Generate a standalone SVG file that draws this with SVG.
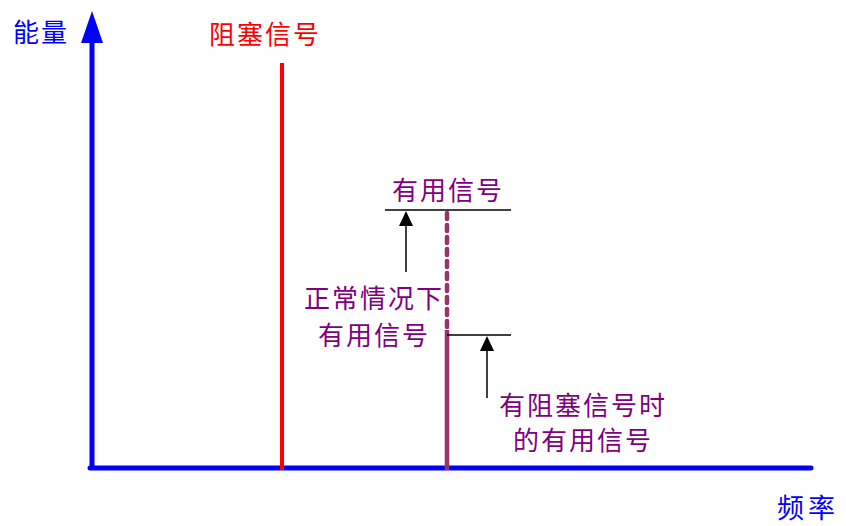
<svg xmlns="http://www.w3.org/2000/svg" width="846" height="526" viewBox="0 0 846 526">
<style>
text{font-family:"Liberation Serif","Noto Sans CJK SC",serif;font-size:26px;letter-spacing:2px}
.blue{fill:#0000ff}.red{fill:#ff0000}.pur{fill:#800080}
.thin{stroke:#000;stroke-width:1.5;fill:none}
</style>
<g id="axes">
<line x1="92" y1="470" x2="92" y2="38" stroke="#0000ff" stroke-width="5"/>
<path d="M92,11 L81,43 L103,43 Z" fill="#0000ff"/>
<line x1="90" y1="468" x2="811" y2="468" stroke="#0000ff" stroke-width="5" stroke-linecap="round"/>
</g>
<g id="block-signal">
<line x1="282" y1="63" x2="282" y2="470" stroke="#ff0000" stroke-width="4"/>
</g>
<g id="useful-signal">
<line x1="447" y1="213" x2="447" y2="328" stroke="#993366" stroke-width="4.5" stroke-dasharray="6,6" stroke-linecap="round"/>
<line x1="447" y1="330" x2="447" y2="470" stroke="#993366" stroke-width="4.5"/>
</g>
<g id="connectors">
<line class="thin" x1="385" y1="210" x2="511" y2="210"/>
<line class="thin" x1="406" y1="272" x2="406" y2="224"/>
<path d="M406,211 L399,226 L413,226 Z" fill="#000"/>
<line class="thin" x1="447" y1="335" x2="511" y2="335"/>
<line class="thin" x1="487" y1="398" x2="487" y2="348"/>
<path d="M487,336 L480,351 L494,351 Z" fill="#000"/>
</g>
<g id="labels">
<text class="blue" x="13" y="42">能量</text>
<text class="red" x="209" y="44">阻塞信号</text>
<text class="pur" x="392" y="200">有用信号</text>
<text class="pur" x="304" y="308">正常情况下</text>
<text class="pur" x="318" y="345">有用信号</text>
<text class="pur" x="499" y="415">有阻塞信号时</text>
<text class="pur" x="513" y="450">的有用信号</text>
<text class="blue" x="777" y="518" style="font-size:27px;letter-spacing:4px">频率</text>
</g>
</svg>
